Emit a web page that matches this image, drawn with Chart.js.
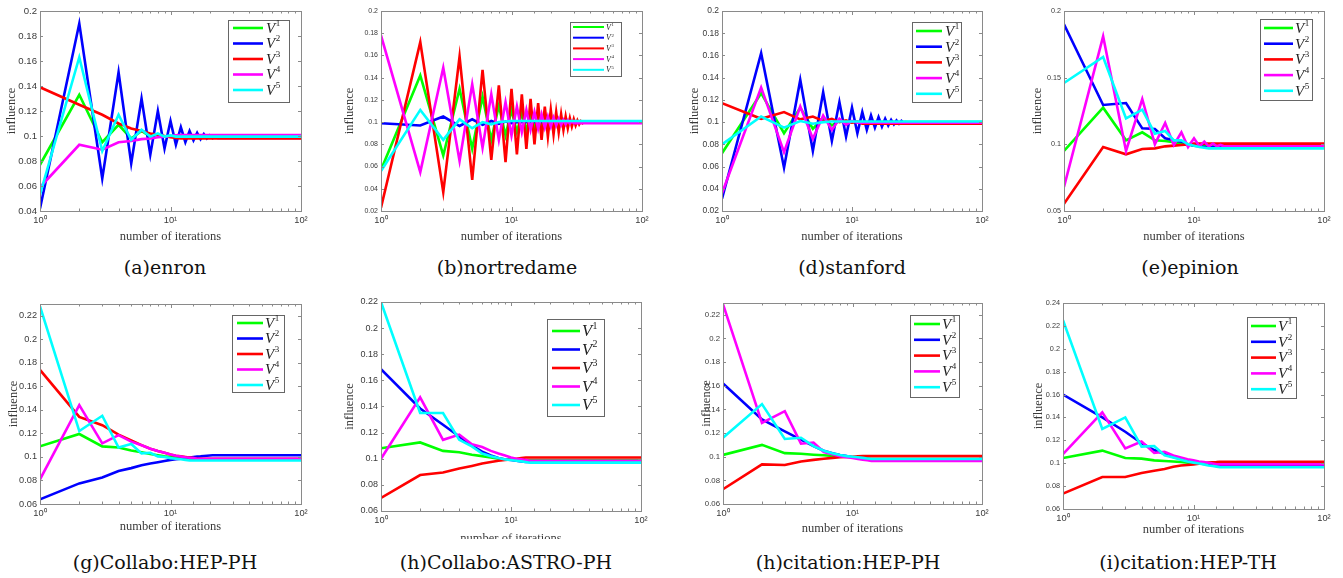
<!DOCTYPE html>
<html>
<head>
<meta charset="utf-8">
<script src="https://cdn.jsdelivr.net/npm/chart.js@4.4.1/dist/chart.umd.min.js"></script>
<style>
  body { margin: 0; background: #fff; width: 1343px; height: 578px; position: relative; overflow: hidden; }
  .panel { position: absolute; }
  .caption { position: absolute; font-family: "DejaVu Serif", serif; font-size: 19px; line-height: 22px;
             color: #111; white-space: nowrap; transform: translateX(-50%); }
</style>
</head>
<body>
<script>
// values per iteration 1, 2, 3, ...; the last value is held until iteration 100
const enronV1 = [0.077, 0.133, 0.095, 0.109, 0.098, 0.104, 0.0995, 0.101, 0.0995];
const enronV2 = [0.042, 0.190, 0.066, 0.151, 0.078, 0.130, 0.085, 0.120, 0.090, 0.112, 0.093, 0.107,
  0.095, 0.104, 0.0965, 0.1025, 0.0975, 0.1015, 0.098, 0.1005, 0.0983, 0.0995, 0.0985];
const enronV3 = [0.139, 0.125, 0.117, 0.110, 0.106, 0.104, 0.102, 0.101, 0.100, 0.099, 0.0985, 0.098];
const enronV4 = [0.059, 0.093, 0.089, 0.095, 0.096, 0.0975, 0.098, 0.099, 0.0995, 0.100, 0.1005, 0.1008];
const enronV5 = [0.053, 0.163, 0.088, 0.117, 0.097, 0.105, 0.0995, 0.102, 0.0995, 0.1005, 0.0995];

const notreV1 = [0.057, 0.142, 0.070, 0.130, 0.076, 0.123, 0.084, 0.115, 0.088, 0.111, 0.091, 0.108,
  0.093, 0.106, 0.095, 0.104, 0.096, 0.103, 0.097, 0.102, 0.098, 0.1015, 0.0985, 0.101, 0.099, 0.1005, 0.0995];
const notreV2 = [0.099, 0.097, 0.105, 0.0965, 0.1025, 0.0975, 0.101, 0.0985, 0.1005, 0.099, 0.100];
const notreV3 = [0.023, 0.172, 0.037, 0.159, 0.048, 0.147, 0.066, 0.133, 0.064, 0.130, 0.071, 0.125,
  0.076, 0.121, 0.080, 0.117, 0.084, 0.114, 0.087, 0.111, 0.089, 0.109, 0.091, 0.107, 0.093, 0.105,
  0.0945, 0.1035, 0.096, 0.1025, 0.097, 0.1015, 0.098, 0.1008, 0.099, 0.1003, 0.0995];
const notreV4 = [0.178, 0.055, 0.149, 0.065, 0.134, 0.077, 0.125, 0.084, 0.118, 0.088, 0.114, 0.091,
  0.111, 0.093, 0.109, 0.094, 0.107, 0.095, 0.105, 0.096, 0.104, 0.097, 0.103, 0.0975, 0.102, 0.098,
  0.1015, 0.0985, 0.101, 0.099];
const notreV5 = [0.056, 0.111, 0.084, 0.1025, 0.0945, 0.100, 0.098, 0.100, 0.1005, 0.101];

const stanV1 = [0.072, 0.126, 0.090, 0.113, 0.094, 0.104, 0.097, 0.101, 0.099, 0.100];
const stanV2 = [0.031, 0.162, 0.059, 0.138, 0.074, 0.127, 0.083, 0.118, 0.087, 0.113, 0.090, 0.109,
  0.093, 0.106, 0.095, 0.1045, 0.096, 0.103, 0.097, 0.102, 0.098, 0.1015, 0.0985, 0.101, 0.099, 0.100, 0.0995];
const stanV3 = [0.117, 0.103, 0.109, 0.1025, 0.105, 0.101, 0.103, 0.100, 0.1015, 0.0995, 0.1005, 0.0985];
const stanV4 = [0.036, 0.131, 0.073, 0.114, 0.085, 0.106, 0.093, 0.103, 0.0975, 0.101, 0.0995];
const stanV5 = [0.080, 0.105, 0.095, 0.101, 0.0985, 0.100, 0.1005];

const epinV1 = [0.095, 0.1275, 0.103, 0.109, 0.103, 0.1025, 0.1015, 0.1005, 0.100, 0.099];
const epinV2 = [0.190, 0.1295, 0.131, 0.112, 0.1115, 0.1045, 0.103, 0.102, 0.100, 0.099, 0.0985, 0.098];
const epinV3 = [0.0555, 0.098, 0.0925, 0.0965, 0.097, 0.0985, 0.099, 0.0995, 0.100, 0.1005];
const epinV4 = [0.068, 0.181, 0.095, 0.134, 0.100, 0.116, 0.0995, 0.109, 0.098, 0.1045, 0.0985, 0.102,
  0.0985, 0.1005, 0.0985, 0.0995, 0.0985];
const epinV5 = [0.146, 0.1655, 0.1195, 0.126, 0.108, 0.110, 0.103, 0.103, 0.100, 0.099, 0.098, 0.0975, 0.097];

const colHepV1 = [0.109, 0.1195, 0.109, 0.108, 0.1055, 0.104, 0.1025, 0.1015, 0.1005, 0.100, 0.0995, 0.099, 0.0985, 0.098];
const colHepV2 = [0.064, 0.0775, 0.0825, 0.088, 0.0905, 0.093, 0.0945, 0.0955, 0.0965, 0.0975, 0.098,
  0.0985, 0.099, 0.0995, 0.100, 0.1003, 0.1005, 0.1008, 0.101, 0.1012, 0.1014];
const colHepV3 = [0.174, 0.134, 0.127, 0.119, 0.114, 0.110, 0.107, 0.105, 0.1035, 0.102, 0.101, 0.1005,
  0.100, 0.0995, 0.099, 0.0985];
const colHepV4 = [0.081, 0.144, 0.1115, 0.1185, 0.113, 0.110, 0.107, 0.105, 0.1035, 0.102, 0.101, 0.1003,
  0.0997, 0.0993, 0.099, 0.0985];
const colHepV5 = [0.228, 0.122, 0.135, 0.108, 0.111, 0.103, 0.1035, 0.1005, 0.100, 0.099, 0.0985, 0.098, 0.0975, 0.097];

const colAstroV1 = [0.108, 0.1125, 0.106, 0.105, 0.103, 0.102, 0.101, 0.100, 0.0995, 0.0992, 0.099];
const colAstroV2 = [0.1685, 0.1385, 0.126, 0.117, 0.110, 0.1055, 0.1025, 0.1005, 0.0995, 0.099, 0.0985, 0.098, 0.0975];
const colAstroV3 = [0.070, 0.0875, 0.0895, 0.0925, 0.0945, 0.0963, 0.0975, 0.0985, 0.099, 0.0995, 0.100, 0.1005, 0.101];
const colAstroV4 = [0.100, 0.147, 0.1145, 0.1185, 0.111, 0.109, 0.106, 0.104, 0.1025, 0.101, 0.100, 0.0995, 0.099, 0.0985];
const colAstroV5 = [0.220, 0.135, 0.135, 0.1145, 0.1095, 0.104, 0.102, 0.1005, 0.0995, 0.099, 0.0985, 0.098, 0.0975, 0.097];

const citHepV1 = [0.1015, 0.110, 0.103, 0.1025, 0.1017, 0.1012, 0.1007, 0.1003, 0.100, 0.0997, 0.0993, 0.099, 0.0985, 0.098];
const citHepV2 = [0.162, 0.1315, 0.1215, 0.1145, 0.109, 0.105, 0.103, 0.1015, 0.1005, 0.0995, 0.099, 0.0985, 0.098, 0.0975];
const citHepV3 = [0.0725, 0.0935, 0.093, 0.096, 0.0973, 0.0983, 0.099, 0.0995, 0.0998, 0.100, 0.1003, 0.1005];
const citHepV4 = [0.229, 0.1285, 0.1385, 0.111, 0.112, 0.104, 0.102, 0.1005, 0.0995, 0.099, 0.098, 0.0975, 0.097, 0.0965];
const citHepV5 = [0.116, 0.1445, 0.115, 0.116, 0.109, 0.105, 0.103, 0.1015, 0.1005, 0.100, 0.0995, 0.099, 0.0985, 0.098];

const citThV1 = [0.1045, 0.111, 0.1045, 0.104, 0.1025, 0.102, 0.1015, 0.101, 0.1005, 0.100, 0.0997, 0.0993, 0.099, 0.0985];
const citThV2 = [0.160, 0.140, 0.1275, 0.1175, 0.1115, 0.108, 0.1055, 0.104, 0.1025, 0.1015, 0.1005, 0.100,
  0.0995, 0.099, 0.0985, 0.098, 0.0975];
const citThV3 = [0.0735, 0.088, 0.088, 0.0915, 0.0935, 0.095, 0.097, 0.098, 0.0985, 0.099, 0.0995, 0.100,
  0.1005, 0.1008, 0.101, 0.1013];
const citThV4 = [0.108, 0.1445, 0.113, 0.119, 0.109, 0.110, 0.1067, 0.105, 0.1035, 0.1025, 0.1015, 0.101,
  0.1003, 0.0997, 0.099];
const citThV5 = [0.225, 0.130, 0.140, 0.1145, 0.115, 0.107, 0.105, 0.103, 0.1015, 0.1005, 0.0997, 0.099,
  0.098, 0.0975, 0.097, 0.0965];

const LAST_ITERATION = 100;
const COLORS = ["#00ff00", "#0000ff", "#ff0000", "#ff00ff", "#00ffff"];
const LEGEND_LABELS = ["1", "2", "3", "4", "5"];
const X_TICK_LABELS = { 1: "10\u2070", 10: "10\u00b9", 100: "10\u00b2" };

// page layout of each panel: plot = [left, top, right, bottom]
const panels = [
  { caption: "(a)enron", series: [enronV1, enronV2, enronV3, enronV4, enronV5],
    y: [0.04, 0.2, 0.02], plot: [40, 11, 301, 211], xTitleY: 236.5, canvasBottom: 245, yTitleX: 11.7, tickSize: 9.6,
    legend: { box: [228, 20, 289, 102], line: [233, 263], textX: 266, rowY: 28, rowStep: 15.5, font: 15 },
    cap: [165, 268] },
  { caption: "(b)nortredame", series: [notreV1, notreV2, notreV3, notreV4, notreV5],
    y: [0.02, 0.2, 0.02], plot: [381, 11, 642, 211], xTitleY: 236.5, canvasBottom: 245, yTitleX: 350, tickSize: 7,
    legend: { box: [570, 22, 621, 76], line: [573, 604], textX: 606, rowY: 27, rowStep: 10.7, font: 8 },
    cap: [507, 268] },
  { caption: "(d)stanford", series: [stanV1, stanV2, stanV3, stanV4, stanV5],
    y: [0.02, 0.2, 0.02], plot: [722, 11, 982, 211], xTitleY: 236.5, canvasBottom: 245, yTitleX: 695, tickSize: 8.5,
    legend: { box: [912, 22, 961, 102], line: [916, 942], textX: 945, rowY: 31, rowStep: 15.7, font: 15 },
    cap: [852, 268] },
  { caption: "(e)epinion", series: [epinV1, epinV2, epinV3, epinV4, epinV5],
    y: [0.05, 0.2, 0.05], plot: [1064, 11, 1324, 211], xTitleY: 236.5, canvasBottom: 245, yTitleX: 1037.3, tickSize: 7.2,
    legend: { box: [1260, 19, 1312, 100], line: [1264, 1293], textX: 1295, rowY: 28, rowStep: 15.7, font: 15 },
    cap: [1190, 268] },
  { caption: "(g)Collabo:HEP-PH", series: [colHepV1, colHepV2, colHepV3, colHepV4, colHepV5],
    y: [0.06, 0.23, 0.02], plot: [40, 304, 301, 504], xTitleY: 527, canvasBottom: 536, yTitleX: 13.3, tickSize: 9.2,
    legend: { box: [232, 315, 284, 392], line: [237, 263], textX: 265, rowY: 323, rowStep: 15.5, font: 15 },
    cap: [165, 563] },
  { caption: "(h)Collabo:ASTRO-PH", series: [colAstroV1, colAstroV2, colAstroV3, colAstroV4, colAstroV5],
    y: [0.06, 0.22, 0.02], plot: [381, 302, 641, 511], xTitleY: 539, canvasBottom: 539, yTitleX: 350, tickSize: 9,
    legend: { box: [547, 319, 604, 416], line: [552, 580], textX: 582, rowY: 331, rowStep: 18.5, font: 16.5 },
    cap: [506, 563] },
  { caption: "(h)citation:HEP-PH", series: [citHepV1, citHepV2, citHepV3, citHepV4, citHepV5],
    y: [0.06, 0.23, 0.02], plot: [723, 303, 982, 504], xTitleY: 529, canvasBottom: 538, yTitleX: 706.7, tickSize: 7.8,
    legend: { box: [910, 315, 959, 397], line: [914, 940], textX: 942, rowY: 324, rowStep: 15.8, font: 15 },
    cap: [848, 563] },
  { caption: "(i)citation:HEP-TH", series: [citThV1, citThV2, citThV3, citThV4, citThV5],
    y: [0.06, 0.24, 0.02], plot: [1063, 303, 1324, 509], xTitleY: 530, canvasBottom: 539, yTitleX: 1038.3, tickSize: 7.3,
    legend: { box: [1247, 317, 1296, 398], line: [1251, 1276], textX: 1278, rowY: 326, rowStep: 15.8, font: 15 },
    cap: [1188, 563] },
];

function toPoints(values) {
  let points = values.map((v, i) => ({ x: i + 1, y: v }));
  points.push({ x: LAST_ITERATION, y: values[values.length - 1] });
  return points;
}

function isDecade(v) {
  let e = Math.log10(v);
  return Math.abs(e - Math.round(e)) < 1e-9;
}

function onStep(v, step) {
  let k = v / step;
  return Math.abs(k - Math.round(k)) < 1e-6;
}

function matlabAxes(panel, left, top) {
  return {
    id: "matlabAxes",
    afterDraw(chart) {
      const ctx = chart.ctx;
      const area = chart.chartArea;
      const xs = chart.scales.x;
      const ys = chart.scales.y;
      ctx.save();
      // inward ticks on all four sides
      ctx.strokeStyle = "#8a8a8a";
      ctx.lineWidth = 1;
      ctx.beginPath();
      xs.ticks.forEach((t) => {
        let px = Math.round(xs.getPixelForValue(t.value)) + 0.5;
        let len = isDecade(t.value) ? 4 : 2.5;
        ctx.moveTo(px, area.bottom);
        ctx.lineTo(px, area.bottom - len);
        ctx.moveTo(px, area.top);
        ctx.lineTo(px, area.top + len);
      });
      ys.ticks.forEach((t) => {
        if (!onStep(t.value, panel.y[2])) return;
        let py = Math.round(ys.getPixelForValue(t.value)) + 0.5;
        ctx.moveTo(area.left, py);
        ctx.lineTo(area.left + 3, py);
        ctx.moveTo(area.right, py);
        ctx.lineTo(area.right - 3, py);
      });
      ctx.stroke();
      ctx.strokeRect(Math.round(area.left) + 0.5, Math.round(area.top) + 0.5,
        Math.round(area.right - area.left), Math.round(area.bottom - area.top));

      // legend box
      const lg = panel.legend;
      let bx = lg.box[0] - left, by = lg.box[1] - top;
      let bw = lg.box[2] - lg.box[0], bh = lg.box[3] - lg.box[1];
      ctx.fillStyle = "#fff";
      ctx.fillRect(bx, by, bw, bh);
      ctx.strokeStyle = "#666";
      ctx.strokeRect(bx + 0.5, by + 0.5, bw, bh);
      for (let i = 0; i < COLORS.length; i++) {
        let y = lg.rowY + i * lg.rowStep - top;
        ctx.strokeStyle = COLORS[i];
        ctx.lineWidth = lg.font > 10 ? 2.6 : 2;
        ctx.beginPath();
        ctx.moveTo(lg.line[0] - left, y);
        ctx.lineTo(lg.line[1] - left, y);
        ctx.stroke();
        ctx.fillStyle = "#222";
        ctx.textAlign = "left";
        ctx.textBaseline = "middle";
        ctx.font = "italic " + lg.font + 'px "Liberation Serif"';
        let tx = lg.textX - left;
        ctx.fillText("V", tx, y + lg.font * 0.06);
        let vw = ctx.measureText("V").width;
        ctx.font = (lg.font * 0.6).toFixed(1) + 'px "Liberation Serif"';
        ctx.fillText(LEGEND_LABELS[i], tx + vw + 0.5, y - lg.font * 0.3);
      }
      ctx.restore();
    },
  };
}

function initPanel(panel) {
  const [pl, pt, pr, pb] = panel.plot;
  const left = pl - 40;
  const top = pt - 11;
  const width = pr + 14 - left;
  const height = panel.canvasBottom - top;

  const div = document.createElement("div");
  div.className = "panel";
  div.style.left = left + "px";
  div.style.top = top + "px";
  div.style.width = width + "px";
  div.style.height = height + "px";
  const canvas = document.createElement("canvas");
  div.appendChild(canvas);
  document.body.appendChild(div);

  const cap = document.createElement("div");
  cap.className = "caption";
  cap.textContent = panel.caption;
  cap.style.left = panel.cap[0] + "px";
  cap.style.top = (panel.cap[1] - 12.4) + "px";
  document.body.appendChild(cap);

  const datasets = panel.series.map((values, i) => ({
    label: "V" + LEGEND_LABELS[i],
    data: toPoints(values),
    borderColor: COLORS[i],
    borderWidth: 2.6,
    pointRadius: 0,
    tension: 0,
    fill: false,
    order: COLORS.length - i,
  }));

  const [yMin, yMax, yStep] = panel.y;
  const tickFamily = '"Liberation Sans", Arial, sans-serif';
  const yTickFont = { family: tickFamily, size: panel.tickSize };
  const xTickFont = { family: tickFamily, size: 9.3 };
  const titleFont = { family: '"Liberation Serif", serif', size: 12.5 };

  new Chart(canvas, {
    type: "line",
    data: { datasets: datasets },
    options: {
      responsive: true,
      maintainAspectRatio: false,
      animation: false,
      layout: { padding: { left: 0, top: pt - top, right: left + width - pr, bottom: 0 } },
      plugins: { legend: { display: false }, tooltip: { enabled: false } },
      scales: {
        x: {
          type: "logarithmic",
          min: 1,
          max: LAST_ITERATION,
          bounds: "data",
          grid: { display: false, drawTicks: false },
          border: { display: false },
          ticks: {
            autoSkip: false,
            maxRotation: 0,
            padding: 4,
            color: "#3a3a3a",
            font: xTickFont,
            callback: (v) => X_TICK_LABELS[Math.round(v)] && isDecade(v) ? X_TICK_LABELS[Math.round(v)] : "",
          },
          title: {
            display: true,
            text: "number of iterations",
            color: "#3a3a3a",
            font: titleFont,
            padding: { top: 0, bottom: panel.canvasBottom - panel.xTitleY - 7.5 },
          },
          afterFit: (scale) => { scale.height = panel.canvasBottom - pb; },
        },
        y: {
          type: "linear",
          min: yMin,
          max: yMax,
          bounds: "data",
          grid: { display: false, drawTicks: false },
          border: { display: false },
          ticks: {
            stepSize: yStep,
            includeBounds: false,
            padding: 3,
            color: "#3a3a3a",
            font: yTickFont,
            callback: (v) => onStep(v, yStep) ? String(parseFloat(v.toFixed(3))) : "",
          },
          title: {
            display: true,
            text: "influence",
            color: "#3a3a3a",
            font: titleFont,
            padding: { top: panel.yTitleX - left - 7.5, bottom: 0 },
          },
          afterFit: (scale) => { scale.width = pl - left; },
        },
      },
    },
    plugins: [matlabAxes(panel, left, top)],
  });
}

window.onload = function () {
  panels.forEach(initPanel);
};
</script>
</body>
</html>
